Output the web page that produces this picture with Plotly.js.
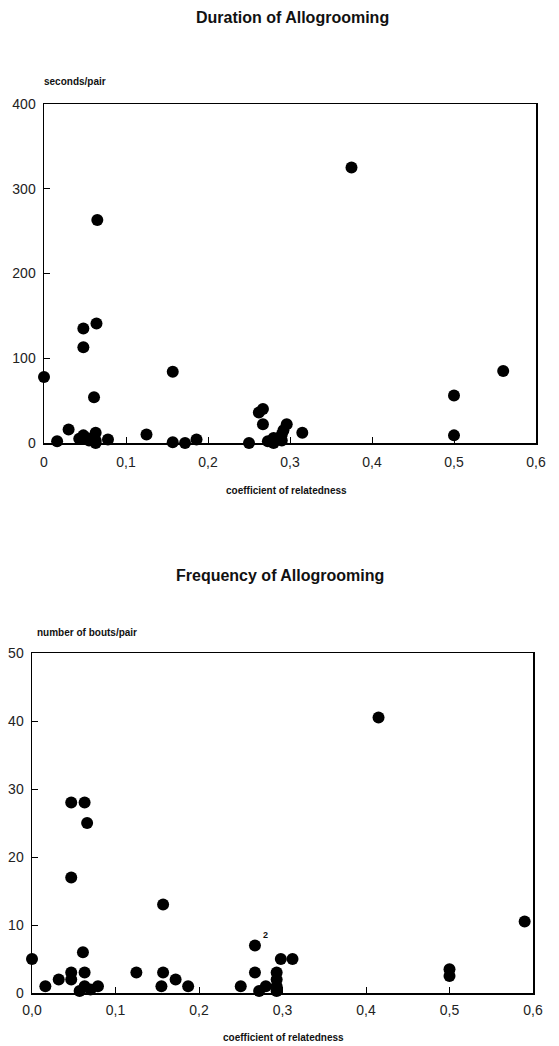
<!DOCTYPE html>
<html>
<head>
<meta charset="utf-8">
<script src="https://cdn.plot.ly/plotly-3.0.1.min.js"></script>
<style>html,body{margin:0;padding:0;background:#fff;}#chart{width:559px;height:1046px;}</style>
</head>
<body>
<div id="chart"></div>
<script>
// Duration of allogrooming (seconds/pair) vs coefficient of relatedness
const durRel = [0, 0.016, 0.03, 0.043, 0.048, 0.048, 0.048, 0.052, 0.055, 0.061, 0.063, 0.063, 0.063, 0.065, 0.064, 0.078,
  0.125, 0.157, 0.157, 0.172, 0.186, 0.25, 0.262, 0.267, 0.267, 0.273, 0.28, 0.28, 0.29, 0.29, 0.292, 0.296, 0.315,
  0.375, 0.5, 0.5, 0.56];
const durSec = [78, 2, 16, 5, 135, 113, 9, 6, 3, 54, 12, 3, 0, 263, 141, 4,
  10, 84, 1, 0, 4, 0, 36, 40, 22, 2, 6, 0, 3, 10, 15, 22, 12,
  325, 56, 9, 85];

// Frequency of allogrooming (bouts/pair) vs coefficient of relatedness
const freqRel = [0, 0.016, 0.032, 0.047, 0.047, 0.047, 0.047, 0.063, 0.066, 0.061, 0.063, 0.063, 0.057, 0.07, 0.079,
  0.125, 0.157, 0.157, 0.155, 0.172, 0.187, 0.25, 0.267, 0.267, 0.272, 0.28, 0.293, 0.293, 0.293, 0.293, 0.298, 0.312,
  0.415, 0.5, 0.5, 0.59];
const freqBouts = [5, 1, 2, 3, 2, 17, 28, 28, 25, 6, 3, 1, 0.3, 0.5, 1,
  3, 13, 3, 1, 2, 1, 1, 7, 3, 0.3, 1, 3, 2, 1, 0.3, 5, 5,
  40.5, 3.5, 2.5, 10.5];

const xTickVals = [0, 0.1, 0.2, 0.3, 0.4, 0.5, 0.6];
const xTickTop = ["0", "0,1", "0,2", "0,3", "0,4", "0,5", "0,6"];
const xTickBottom = ["0,0", "0,1", "0,2", "0,3", "0,4", "0,5", "0,6"];
const yTickDur = [0, 100, 200, 300, 400];
const yTickFreq = [0, 10, 20, 30, 40, 50];

const W = 559, H = 1046;
const px = v => v / W;
const py = v => 1 - v / H;

const marker = {color: '#000', size: 12, symbol: 'circle', line: {width: 0}};
const traces = [
  {x: durRel, y: durSec, type: 'scatter', mode: 'markers', marker: marker, xaxis: 'x', yaxis: 'y', cliponaxis: false, hoverinfo: 'x+y'},
  {x: freqRel, y: freqBouts, type: 'scatter', mode: 'markers', marker: marker, xaxis: 'x2', yaxis: 'y2', cliponaxis: false, hoverinfo: 'x+y'}
];

const FONT = 'Liberation Sans, Arial, sans-serif';
const tickFont = {family: FONT, size: 14, color: '#222'};
const axisCommon = {
  showgrid: false, zeroline: false, showline: true, linecolor: '#000', linewidth: 1.5,
  mirror: true, ticks: 'inside', ticklen: 6, tickcolor: '#000', tickwidth: 1,
  tickfont: tickFont, fixedrange: true
};
const boldSmall = {family: FONT, size: 10, color: '#111', weight: 'bold'};
const boldTitle = {family: FONT, size: 16, color: '#111', weight: 'bold'};

const layout = {
  width: W, height: H,
  margin: {l: 0, r: 0, t: 0, b: 0},
  paper_bgcolor: '#fff', plot_bgcolor: '#fff',
  showlegend: false,
  xaxis: Object.assign({}, axisCommon, {
    domain: [px(44), px(536)], range: [0, 0.6], anchor: 'y',
    tickmode: 'array', tickvals: xTickVals, ticktext: xTickTop, ticklabelstandoff: 6
  }),
  yaxis: Object.assign({}, axisCommon, {
    domain: [py(443), py(104)], range: [0, 400], anchor: 'x',
    tickmode: 'array', tickvals: yTickDur, ticktext: yTickDur.map(String), ticklabelstandoff: 4
  }),
  xaxis2: Object.assign({}, axisCommon, {
    domain: [px(32), px(533)], range: [0, 0.6], anchor: 'y2',
    tickmode: 'array', tickvals: xTickVals, ticktext: xTickBottom, ticklabelstandoff: 4
  }),
  yaxis2: Object.assign({}, axisCommon, {
    domain: [py(993), py(653)], range: [0, 50], anchor: 'x2',
    tickmode: 'array', tickvals: yTickFreq, ticktext: yTickFreq.map(String), ticklabelstandoff: 4
  }),
  annotations: [
    {text: 'Duration of Allogrooming', x: px(292), y: py(18), xref: 'paper', yref: 'paper', showarrow: false,
      xanchor: 'center', yanchor: 'middle', font: boldTitle},
    {text: 'seconds/pair', x: px(42), y: py(82), xref: 'paper', yref: 'paper', showarrow: false,
      xanchor: 'left', yanchor: 'middle', font: boldSmall},
    {text: 'coefficient of relatedness', x: px(286), y: py(490), xref: 'paper', yref: 'paper', showarrow: false,
      xanchor: 'center', yanchor: 'middle', font: boldSmall},
    {text: 'Frequency of Allogrooming', x: px(280), y: py(575), xref: 'paper', yref: 'paper', showarrow: false,
      xanchor: 'center', yanchor: 'middle', font: boldTitle},
    {text: 'number of bouts/pair', x: px(35), y: py(632), xref: 'paper', yref: 'paper', showarrow: false,
      xanchor: 'left', yanchor: 'middle', font: boldSmall},
    {text: 'coefficient of relatedness', x: px(283), y: py(1037), xref: 'paper', yref: 'paper', showarrow: false,
      xanchor: 'center', yanchor: 'middle', font: boldSmall},
    {text: '2', x: 0.274, y: 8.6, xref: 'x2', yref: 'y2', showarrow: false,
      xanchor: 'left', yanchor: 'middle', font: {family: FONT, size: 9, color: '#111', weight: 'bold'}}
  ]
};

Plotly.newPlot('chart', traces, layout, {displayModeBar: false, staticPlot: true});
</script>
</body>
</html>
